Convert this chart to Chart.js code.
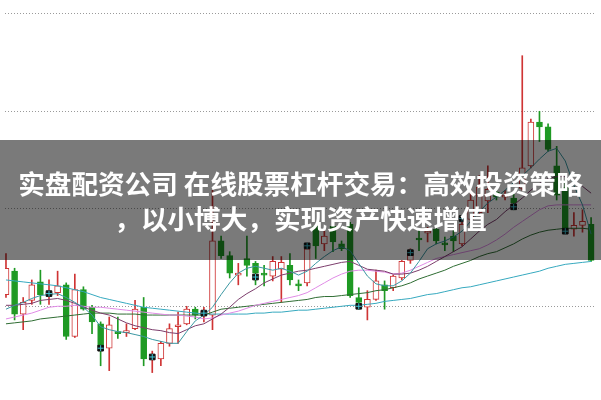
<!DOCTYPE html>
<html>
<head>
<meta charset="utf-8">
<title>K线图</title>
<script src="https://cdn.jsdelivr.net/npm/chart.js@4.4.1/dist/chart.umd.min.js"></script>
<style>
    body { margin: 0; background: #fff; }
    #wrap { position: relative; width: 601px; height: 400px; overflow: hidden; }
    #banner {
        position: absolute; left: 0; top: 140px; width: 601px; height: 120px;
        box-sizing: border-box; padding-top: 25px;
        background: rgba(0, 0, 0, 0.52); color: #fff;
        font-family: "Noto Sans CJK SC", sans-serif; font-weight: 700;
        font-size: 26.6px; line-height: 35px; text-align: center; white-space: nowrap;
    }
</style>
</head>
<body>
<div id="wrap">
    <canvas id="klineChart" width="601" height="400"></canvas>
    <div id="banner">实盘配资公司 在线股票杠杆交易：高效投资策略<br>，以小博大，实现资产快速增值</div>
</div>
<script>
// daily candles
const opens  = [1.12,1.36,0.92,1.06,1.25,1.12,1.14,1.22,0.69,1.17, 0.99,0.82,0.57,0.74,0.73,0.77,0.99,0.47,0.46,0.62, 0.79,0.82,0.97,0.91,0.91,1.67,1.52,1.32,1.49,1.44, 1.34,1.31,1.38,1.42,1.23,1.24,1.82,1.64,1.82,1.64, 1.84,1.09,0.99,1.07,1.22,1.19,1.29,1.47,1.70,1.75, 1.79,1.65,1.72,1.64,1.89,1.96,2.08,2.17,2.12,2.11, 2.21,2.44,2.89,2.84,2.44,2.22,1.79,1.83,1.84];
const highs  = [1.54,1.39,1.09,1.27,1.37,1.27,1.36,1.24,1.33,1.20, 1.01,0.84,0.89,0.89,0.82,1.06,1.09,0.54,0.64,0.82, 0.94,1.00,0.99,0.99,2.19,1.72,1.56,1.44,1.72,1.46, 1.42,1.51,1.51,1.54,1.27,1.64,1.84,1.77,1.84,1.67, 1.86,1.19,1.16,1.37,1.26,1.32,1.47,1.59,1.79,1.81, 1.82,1.71,1.79,1.91,2.19,2.34,2.44,2.21,2.19,2.15, 3.57,2.92,3.00,2.87,2.64,2.29,1.96,1.99,1.91];
const lows   = [1.09,0.86,0.76,1.02,1.02,1.02,1.11,0.66,0.68,0.96, 0.72,0.39,0.34,0.67,0.69,0.76,0.39,0.32,0.39,0.59, 0.62,0.81,0.87,0.84,0.76,1.49,1.29,1.22,1.31,1.22, 1.21,1.26,1.04,1.22,1.16,1.21,1.49,1.57,1.56,1.57, 1.09,0.97,0.86,1.06,0.97,1.16,1.27,1.44,1.57,1.66, 1.64,1.57,1.56,1.62,1.86,1.94,1.96,2.09,2.09,1.99, 2.19,2.42,2.69,2.59,2.09,1.76,1.72,1.76,1.46];
const closes = [1.39,0.92,1.04,1.22,1.12,1.14,1.21,0.69,1.17,0.97, 0.84,0.59,0.81,0.72,0.75,0.97,0.46,0.49,0.62,0.77, 0.81,0.97,0.91,0.95,1.67,1.52,1.34,1.34,1.42,1.34, 1.32,1.46,1.45,1.27,1.21,1.59,1.62,1.72,1.66,1.59, 1.11,1.04,1.07,1.26,1.16,1.31,1.46,1.53,1.68,1.77, 1.67,1.63,1.67,1.84,2.09,2.22,2.20,2.12,2.14,2.06, 2.42,2.89,2.84,2.61,2.14,1.79,1.83,1.87,1.47];

// moving average lines
const ma5  = [0.97,1.01,1.04,1.08,1.11,1.12,1.13,1.09,1.04,0.99, 0.91,0.79,0.76,0.74,0.73,0.71,0.69,0.66,0.64,0.62, 0.62,0.74,0.85,0.91,0.99,1.12,1.24,1.34,1.39,1.41, 1.39,1.37,1.39,1.36,1.32,1.36,1.44,1.51,1.57,1.61, 1.57,1.44,1.31,1.23,1.21,1.21,1.26,1.34,1.46,1.59, 1.64,1.67,1.71,1.77,1.87,1.97,2.06,2.12,2.19,2.27, 2.34,2.42,2.51,2.59,2.62,2.49,2.24,2.04,1.74];
const ma10 = [1.01,1.01,1.02,1.03,1.06,1.07,1.08,1.06,1.03,0.99, 0.96,0.93,0.91,0.87,0.83,0.80,0.78,0.76,0.75,0.73, 0.72,0.76,0.80,0.82,0.87,0.92,0.99,1.07,1.13,1.18, 1.24,1.28,1.32,1.34,1.36,1.37,1.39,1.41,1.43,1.45, 1.46,1.42,1.38,1.37,1.36,1.33,1.33,1.34,1.37,1.41, 1.46,1.51,1.56,1.61,1.69,1.77,1.84,1.89,1.97,2.04, 2.11,2.19,2.26,2.31,2.33,2.33,2.29,2.23,2.16];
const ma20 = [0.87,0.89,0.91,0.93,0.96,0.99,1.00,1.00,1.01,1.00, 0.99,0.99,0.98,0.97,0.96,0.95,0.94,0.93,0.92,0.91, 0.91,0.90,0.89,0.87,0.88,0.91,0.93,0.95,0.98,1.01, 1.03,1.05,1.07,1.09,1.11,1.14,1.19,1.24,1.29,1.33, 1.36,1.37,1.37,1.36,1.35,1.33,1.34,1.37,1.41,1.45, 1.49,1.51,1.53,1.55,1.57,1.59,1.63,1.68,1.74,1.81, 1.87,1.93,1.99,2.03,2.04,2.04,2.04,2.04,2.04];
const ma30 = [0.82,0.83,0.84,0.85,0.87,0.88,0.89,0.90,0.91,0.92, 0.93,0.93,0.93,0.92,0.92,0.92,0.91,0.91,0.91,0.91, 0.91,0.91,0.91,0.91,0.94,0.97,0.98,0.99,1.00,1.01, 1.02,1.03,1.04,1.05,1.06,1.07,1.09,1.10,1.10,1.11, 1.12,1.13,1.14,1.16,1.17,1.19,1.21,1.24,1.28,1.31, 1.34,1.37,1.41,1.44,1.47,1.51,1.54,1.56,1.60,1.64, 1.69,1.73,1.76,1.78,1.79,1.80,1.80,1.80,1.79];
const ma60 = [1.27,1.26,1.25,1.24,1.23,1.22,1.21,1.19,1.17,1.15, 1.12,1.09,1.07,1.05,1.03,1.01,0.99,0.98,0.97,0.96, 0.95,0.94,0.93,0.92,0.92,0.92,0.92,0.92,0.92,0.93, 0.93,0.94,0.94,0.95,0.96,0.96,0.97,0.98,0.99,1.00, 1.01,1.01,1.02,1.03,1.05,1.06,1.07,1.08,1.10,1.12, 1.13,1.15,1.17,1.19,1.20,1.22,1.24,1.26,1.28,1.30, 1.32,1.34,1.36,1.39,1.41,1.43,1.44,1.45,1.46];

// small black signal boxes
const marks = [null,null,null,null,null,1.13,null,null,null,null, null,0.57,null,null,null,null,null,0.48,null,null, null,null,null,0.93,null,null,null,null,null,1.30, null,null,null,null,null,1.62,null,null,null,null, null,1.00,null,null,null,null,null,1.55,null,null, null,null,null,1.90,null,null,null,null,null,2.02, null,null,null,null,null,1.77,null,null,null];

// dotted price levels
const gridLevels = [1, 2, 3, 4];

const RED = "#cf3434";
const GREEN = "#1f9a24";

const up = closes.map((c, i) => c >= opens[i]);
const toPoints = arr => arr.map((v, i) => ({ x: i, y: v }));

function maLine(label, data, color) {
    return {
        type: "line", label, data: toPoints(data),
        borderColor: color, borderWidth: 1, pointRadius: 0, tension: 0, order: 0
    };
}

const ctx = document.getElementById("klineChart").getContext("2d");
new Chart(ctx, {
    type: "bar",
    data: {
        datasets: [
            // candle bodies
            {
                label: "body",
                data: opens.map((o, i) => ({ x: i, y: [o, closes[i]] })),
                backgroundColor: up.map(u => u ? "#ffffff" : GREEN),
                borderColor: up.map(u => u ? RED : GREEN),
                borderWidth: 1, borderSkipped: false,
                barThickness: 6, grouped: false, order: 2
            },
            // wicks
            {
                label: "wick",
                data: lows.map((l, i) => ({ x: i, y: [l, highs[i]] })),
                backgroundColor: up.map(u => u ? RED : GREEN),
                barThickness: 1, grouped: false, order: 3
            },
            maLine("MA5", ma5, "#3a97a2"),
            maLine("MA10", ma10, "#7c3d6c"),
            maLine("MA20", ma20, "#e08be6"),
            maLine("MA30", ma30, "#2f6d33"),
            maLine("MA60", ma60, "#36a9bf"),
            {
                type: "scatter", label: "cross", data: toPoints(marks),
                pointStyle: "cross", pointRadius: 3, borderColor: "#40c8d8", borderWidth: 1, order: -2
            },
            {
                type: "scatter", label: "mark", data: toPoints(marks),
                pointStyle: "rect", pointRadius: 4, backgroundColor: "#111", borderColor: "#111", order: -1
            }
        ]
    },
    options: {
        responsive: false,
        animation: false,
        layout: { padding: 0 },
        plugins: { legend: { display: false }, tooltip: { enabled: false } },
        scales: {
            x: { type: "linear", min: -0.114, max: 68.57, offset: false, display: false },
            y: {
                min: 0.09, max: 4.09,
                afterBuildTicks: scale => { scale.ticks = gridLevels.map(v => ({ value: v })); },
                ticks: { display: false },
                grid: { drawTicks: false, color: "#9a9a9a", lineWidth: 1 },
                border: { display: false, dash: [1, 2] }
            }
        }
    }
});
</script>
</body>
</html>
